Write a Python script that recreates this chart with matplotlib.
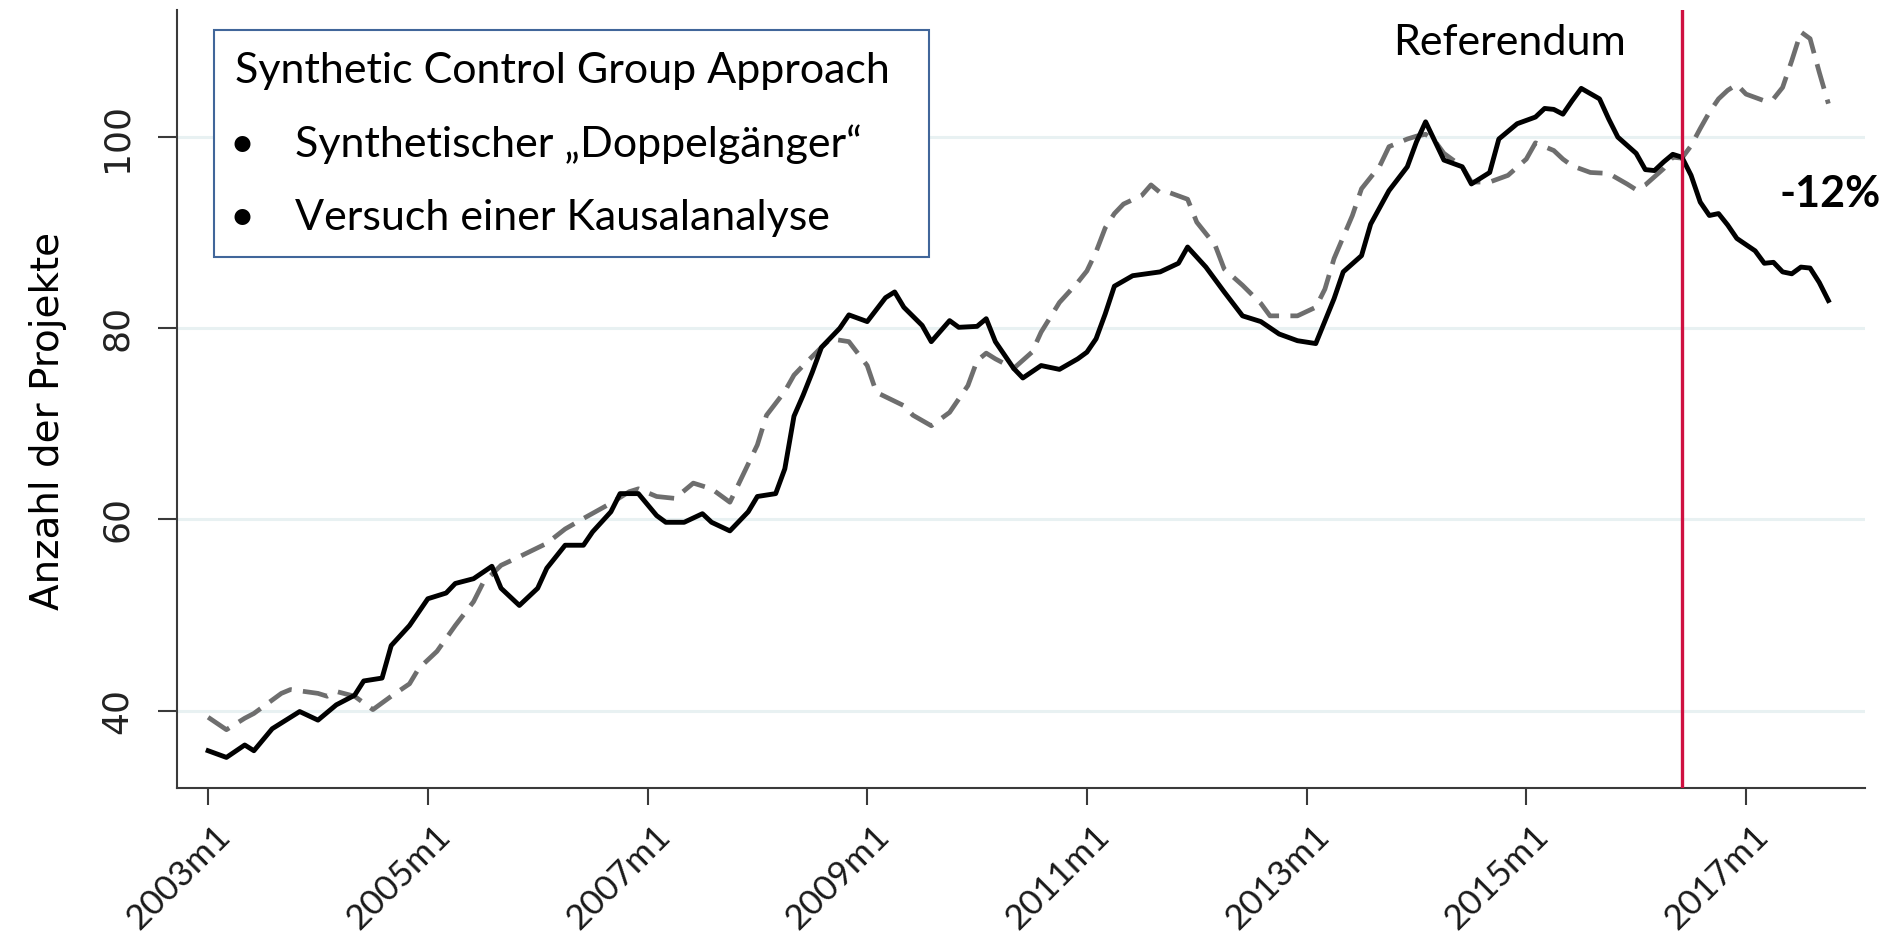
import matplotlib
matplotlib.use('Agg')
import matplotlib.pyplot as plt
from matplotlib.patches import Rectangle
import matplotlib.transforms as mtransforms

# months counted from 2003m1 (0 = 2003m1)
months_actual = [0, 2, 4, 5, 7, 10, 12, 14, 16, 17, 19, 20, 22, 24, 26, 27, 29, 31, 32, 34,
                 36, 37, 39, 41, 42, 44, 45, 47, 49, 50, 52, 54, 55, 57, 59, 60, 62, 63, 64, 65,
                 66, 67, 69, 70, 72, 74, 75, 76, 78, 79, 81, 82, 84, 85, 86, 88, 89, 91, 93, 95,
                 96, 97, 98, 99, 101, 104, 106, 107, 109, 111, 113, 115, 117, 119, 121, 123, 124, 126, 127, 129,
                 131, 132, 133, 134, 135, 137, 138, 140, 141, 143, 145, 146, 147, 148, 149, 150, 152, 153, 154, 156,
                 157, 158, 159, 160, 161, 162, 163, 164, 165, 166, 167, 169, 170, 171, 172, 173, 174, 175, 176, 177]
actual = [35.8, 35.1, 36.4, 35.8, 38.1, 39.9, 39.0, 40.6, 41.6, 43.1, 43.4, 46.8, 48.9, 51.7, 52.3, 53.3, 53.8, 55.1, 52.8, 51.0,
          52.8, 54.9, 57.3, 57.3, 58.7, 60.8, 62.7, 62.7, 60.4, 59.7, 59.7, 60.6, 59.7, 58.8, 60.8, 62.4, 62.7, 65.3, 70.8, 73.0,
          75.4, 78.0, 80.0, 81.4, 80.7, 83.2, 83.8, 82.2, 80.3, 78.6, 80.8, 80.1, 80.2, 81.0, 78.6, 75.8, 74.8, 76.1, 75.7, 76.8,
          77.5, 78.9, 81.5, 84.4, 85.5, 85.9, 86.8, 88.5, 86.4, 83.8, 81.3, 80.7, 79.4, 78.7, 78.4, 83.1, 85.9, 87.6, 90.9, 94.4,
          96.9, 99.5, 101.6, 99.6, 97.6, 96.9, 95.1, 96.3, 99.8, 101.4, 102.1, 103.0, 102.9, 102.4, 103.8, 105.1, 104.0, 101.9, 100.0, 98.3,
          96.6, 96.5, 97.4, 98.2, 97.9, 96.0, 93.2, 91.8, 92.0, 90.8, 89.4, 88.1, 86.8, 86.9, 85.9, 85.7, 86.4, 86.3, 84.8, 82.9]

months_synth = [0, 2, 4, 5, 8, 9, 12, 13, 14, 16, 18, 20, 22, 23, 25, 27, 29, 30, 32, 34,
                37, 39, 41, 44, 46, 47, 49, 51, 53, 55, 57, 58, 60, 61, 63, 64, 65, 67, 68, 70,
                72, 73, 76, 77, 79, 81, 83, 84, 85, 86, 88, 90, 91, 93, 95, 96, 97, 98, 99, 100,
                102, 103, 104, 105, 107, 108, 110, 111, 113, 115, 116, 119, 121, 122, 123, 125, 126, 128, 129, 131,
                132, 133, 134, 135, 137, 138, 140, 142, 144, 145, 147, 148, 149, 151, 153, 155, 156, 157, 159, 160,
                161, 162, 163, 164, 165, 166, 167, 168, 170, 171, 172, 173, 174, 175, 176, 177]
synth = [39.3, 38.0, 39.2, 39.7, 41.8, 42.2, 41.8, 41.5, 42.0, 41.5, 40.1, 41.5, 42.8, 44.4, 46.2, 48.9, 51.4, 53.3, 55.2, 56.1,
         57.5, 59.0, 60.1, 61.7, 62.9, 63.2, 62.4, 62.2, 63.8, 63.2, 61.8, 63.8, 67.8, 70.9, 73.4, 75.1, 76.1, 78.0, 78.9, 78.6,
         76.1, 73.3, 71.9, 70.9, 69.8, 71.2, 74.0, 76.6, 77.4, 76.8, 75.8, 77.5, 79.6, 82.7, 84.8, 86.0, 88.0, 90.5, 92.0, 93.0,
         93.9, 95.0, 94.2, 94.2, 93.5, 91.1, 88.7, 86.2, 84.5, 82.6, 81.3, 81.3, 82.2, 84.1, 87.3, 91.8, 94.6, 97.0, 99.0, 99.8,
         100.1, 100.3, 99.6, 98.3, 96.9, 95.3, 95.3, 96.0, 97.7, 99.4, 98.6, 97.7, 97.0, 96.3, 96.2, 95.1, 94.5, 95.0, 96.7, 97.9,
         97.8, 99.1, 100.9, 102.6, 104.0, 104.9, 105.5, 104.5, 103.8, 104.0, 105.2, 108.0, 111.0, 110.3, 106.8, 103.5]

referendum_month = 161  # 2016m6
tick_months = [0, 24, 48, 72, 96, 120, 144, 168]
tick_labels = ['2003m1', '2005m1', '2007m1', '2009m1', '2011m1', '2013m1', '2015m1', '2017m1']
y_ticks = [40, 60, 80, 100]

W, H = 1886, 936
fig = plt.figure(figsize=(W / 100, H / 100), dpi=100)
ax = fig.add_axes([177 / W, 1 - 788 / H, (1865 - 177) / W, (788 - 10) / H])

for v in y_ticks:
    ax.axhline(v, color='#e8f1f2', lw=2.2, zorder=1)

ax.plot(months_synth, synth, color='#6e6e6e', lw=3.4, dashes=(5.4, 2.4), zorder=3)
ax.plot(months_actual, actual, color='black', lw=3.5, zorder=4)
ax.axvline(referendum_month, color='#cf1040', lw=2.4, zorder=5)

ax.set_xlim(-3.4, 181)
ax.set_ylim(31.9, 113.3)

for s in ['top', 'right']:
    ax.spines[s].set_visible(False)
for s in ['left', 'bottom']:
    ax.spines[s].set_color('#3a3a3a')
    ax.spines[s].set_linewidth(1.5)

ax.set_yticks(y_ticks)
ax.set_yticklabels([str(v) for v in y_ticks], rotation=90, va='center',
                   fontsize=26, color='#222222', family='DejaVu Sans')
ax.tick_params(axis='y', length=14, width=1.5, color='#3a3a3a', pad=17)

ax.set_xticks(tick_months)
ax.set_xticklabels(tick_labels, rotation=45, ha='right', va='top', rotation_mode='anchor',
                   fontsize=25.5, color='#1a1a1a', family='Lato')
ax.tick_params(axis='x', length=12, width=1.5, color='#3a3a3a', pad=11)
shift = mtransforms.ScaledTranslation(6 / 100, 0, fig.dpi_scale_trans)
for lbl in ax.get_xticklabels():
    lbl.set_transform(lbl.get_transform() + shift)

fig.text(48 / W, 1 - 421 / H, 'Anzahl der Projekte', rotation=90, ha='center', va='center',
         fontsize=28, family='DejaVu Sans', color='black')

# info box
fig.add_artist(Rectangle((214 / W, 1 - 257 / H), (929 - 214) / W, (257 - 30) / H,
                         transform=fig.transFigure, facecolor='white', edgecolor='#41669a', lw=1.5))
box_font = dict(family='Lato', fontsize=31, color='black', va='baseline')
fig.text(235 / W, 1 - 83 / H, 'Synthetic Control Group Approach', **box_font)
fig.text(242 / W, 1 - 157 / H, '•', ha='center', **box_font)
fig.text(295 / W, 1 - 157 / H, 'Synthetischer „Doppelgänger“', **box_font)
fig.text(242 / W, 1 - 230 / H, '•', ha='center', **box_font)
fig.text(295 / W, 1 - 230 / H, 'Versuch einer Kausalanalyse', **box_font)

fig.text(1393 / W, 1 - 55 / H, 'Referendum', **box_font)
fig.text(1780 / W, 1 - 207 / H, '-12%', family='Lato', fontsize=31, fontweight='bold',
         color='black', va='baseline')

fig.savefig('out.png', dpi=100, facecolor='white')
